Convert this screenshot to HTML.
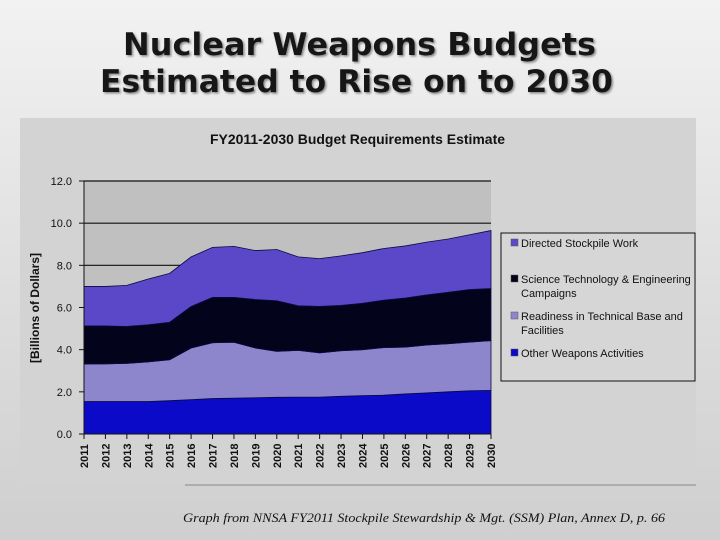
<!DOCTYPE html>
<html><head><meta charset="utf-8"><style>
body{margin:0;width:720px;height:540px;overflow:hidden;background:linear-gradient(180deg,#f2f2f2 0%,#dcdcdc 60%,#cfcfcf 100%);font-family:"Liberation Sans",sans-serif;position:relative}
</style></head><body>
<svg id="c" width="720" height="540" style="position:absolute;left:0;top:0">
<defs><filter id="sh"><feDropShadow dx="1.5" dy="1.5" stdDeviation="1" flood-color="#888"/></filter></defs>
<text x="123" y="55" textLength="473" lengthAdjust="spacingAndGlyphs" font-family="DejaVu Sans,sans-serif" font-weight="bold" font-size="31" fill="#151515" filter="url(#sh)">Nuclear Weapons Budgets</text>
<text x="100" y="92" textLength="513" lengthAdjust="spacingAndGlyphs" font-family="DejaVu Sans,sans-serif" font-weight="bold" font-size="31" fill="#151515" filter="url(#sh)">Estimated to Rise on to 2030</text>
<rect x="20" y="118" width="676" height="366" fill="#d3d3d3"/>
<text x="210" y="144" textLength="295" lengthAdjust="spacingAndGlyphs" font-weight="bold" font-size="14" fill="#111">FY2011-2030 Budget Requirements Estimate</text>
<g id="plot"></g>
<text transform="translate(39,308) rotate(-90)" text-anchor="middle" font-weight="bold" font-size="12" fill="#111">[Billions of Dollars]</text>
<rect x="501" y="233" width="194" height="148" fill="#d6d6d6" stroke="#111" stroke-width="1"/>
<g id="leg" font-size="11" fill="#111"></g>
<line x1="185" y1="485" x2="696" y2="485" stroke="#888"/>
<text x="183" y="522" textLength="482" lengthAdjust="spacingAndGlyphs" font-family="Liberation Serif,serif" font-style="italic" font-size="13" fill="#111">Graph from NNSA FY2011 Stockpile Stewardship &amp; Mgt. (SSM) Plan, Annex D, p. 66</text>
</svg>
<script>
const years=[2011,2012,2013,2014,2015,2016,2017,2018,2019,2020,2021,2022,2023,2024,2025,2026,2027,2028,2029,2030];
const other=[1.54,1.54,1.54,1.54,1.58,1.63,1.68,1.70,1.72,1.74,1.75,1.75,1.79,1.82,1.84,1.90,1.95,2.00,2.05,2.07];
const readiness=[1.78,1.79,1.81,1.88,1.94,2.45,2.65,2.65,2.36,2.18,2.22,2.10,2.16,2.18,2.26,2.22,2.27,2.28,2.31,2.36];
const science=[1.81,1.80,1.75,1.76,1.78,1.97,2.15,2.13,2.30,2.40,2.11,2.20,2.15,2.20,2.25,2.33,2.38,2.44,2.49,2.47];
const directed=[1.87,1.87,1.95,2.17,2.32,2.35,2.37,2.42,2.32,2.43,2.32,2.27,2.35,2.40,2.45,2.47,2.50,2.53,2.60,2.75];
const yTicks=[0,2,4,6,8,10,12];
const NS="http://www.w3.org/2000/svg";
const X0=84,X1=491,Y0=434,Y1=181;
const xs=i=>X0+(X1-X0)*i/(years.length-1);
const ys=v=>Y0-(Y0-Y1)*v/12;
const plot=document.getElementById('plot');
function mk(t,a,p){const e=document.createElementNS(NS,t);for(const k in a)e.setAttribute(k,a[k]);(p||plot).appendChild(e);return e;}
const bg=mk('rect',{x:X0,y:Y1,width:X1-X0,height:Y0-Y1,fill:'#c0c0c0'});


const series=[other,readiness,science,directed];
const colors=['#0a0ac8','#8e86cc','#03031c','#5b48c8'];
const keys=['area-other-weapons','area-readiness','area-science','area-directed-stockpile'];
let base=years.map(()=>0);
const tops=[];
series.forEach((s,k)=>{const top=base.map((b,i)=>b+s[i]);tops.push({base:base.slice(),top});base=top;});
yTicks.forEach(v=>{if(v>0){const l=mk('line',{x1:X0,x2:X1,y1:ys(v),y2:ys(v),stroke:'#111','stroke-width':1.2});

}});
tops.forEach((t,k)=>{let d='';t.top.forEach((v,i)=>{d+=(i?'L':'M')+xs(i)+','+ys(v);});
for(let i=years.length-1;i>=0;i--)d+='L'+xs(i)+','+ys(t.base[i]);
const p=mk('path',{d:d+'Z',fill:colors[k],stroke:'#0a0a40','stroke-width':0.8});

});
mk('line',{x1:X0,x2:X0,y1:Y1,y2:Y0,stroke:'#111'});
mk('line',{x1:X0,x2:X1,y1:Y0,y2:Y0,stroke:'#111'});
yTicks.forEach(v=>{mk('line',{x1:X0-5,x2:X0,y1:ys(v),y2:ys(v),stroke:'#111'});
const t=mk('text',{x:X0-12,y:ys(v)+4,'text-anchor':'end','font-size':11,fill:'#111'});t.textContent=v.toFixed(1);

});
years.forEach((y,i)=>{mk('line',{x1:xs(i),x2:xs(i),y1:Y0,y2:Y0+5,stroke:'#111'});
const t=mk('text',{transform:`translate(${xs(i)+4},${Y0+34}) rotate(-90)`,'font-size':11,'font-weight':'bold',fill:'#111'});t.textContent=y;

});
const leg=document.getElementById('leg');
const legY=[247,283,320,357];
const legLines=[["Directed Stockpile Work"],["Science Technology & Engineering","Campaigns"],["Readiness in Technical Base and","Facilities"],["Other Weapons Activities"]];
const legCol=[colors[3],colors[2],colors[1],colors[0]];
legLines.forEach((ls,k)=>{const g=mk('g',{},leg);


mk('rect',{x:511,y:legY[k]-8,width:7,height:7,fill:legCol[k],stroke:'#555','stroke-width':0.5},g);
ls.forEach((s,j)=>{const t=mk('text',{x:521,y:legY[k]+j*14,'font-size':11,fill:'#111'},g);t.textContent=s;});});
</script>
</body></html>
